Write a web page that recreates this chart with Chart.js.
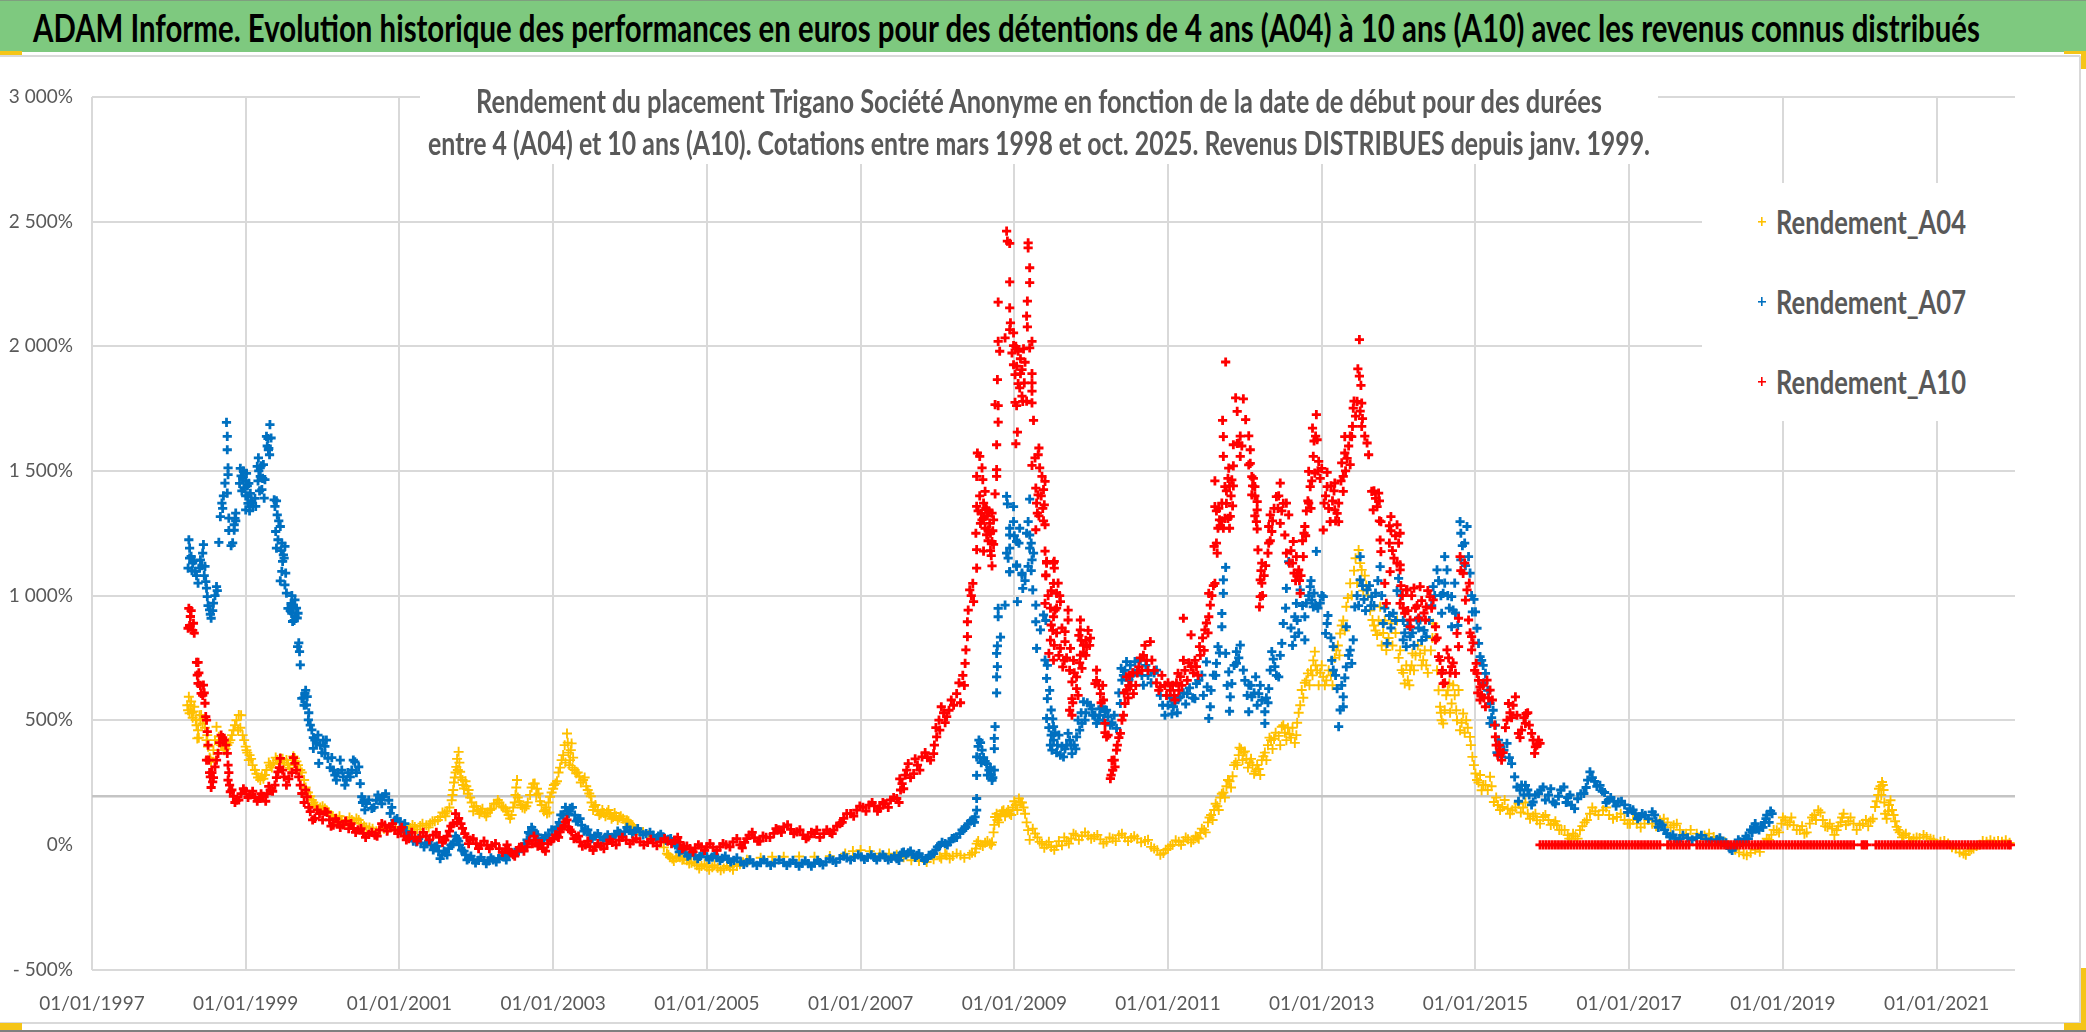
<!DOCTYPE html>
<html lang="fr"><head><meta charset="utf-8"><title>ADAM Informe</title>
<script src="https://cdn.jsdelivr.net/npm/chart.js@4"></script>
<style>
html,body{margin:0;padding:0;background:#fff;width:2086px;height:1032px;overflow:hidden}
#c{position:absolute;left:0;top:0}
.abs{position:absolute}
.fit{position:absolute;white-space:nowrap;transform-origin:0 50%;font-family:Lato,"Liberation Sans",sans-serif;line-height:1}
</style></head><body>
<canvas id="c" width="2086" height="1032"></canvas>
<div class="abs" style="left:0;top:0;width:2086px;height:52px;background:#7ec97f;border-top:1px solid #7f9f7f;box-sizing:border-box"></div>
<div class="abs" style="left:0;top:55px;width:2080px;height:2px;background:#d9d9d9"></div>
<div class="abs" style="left:2079px;top:56px;width:2px;height:967px;background:#d9d9d9"></div>
<div class="abs" style="left:0;top:1022px;width:2080px;height:2px;background:#d9d9d9"></div>
<div class="abs" style="left:0;top:1030px;width:2086px;height:2px;background:#7f7f7f"></div>
<div class="abs" style="left:0;top:51px;width:22px;height:4px;background:#f5c518"></div>
<div class="abs" style="left:0;top:1023px;width:22px;height:7px;background:#f5c518"></div>
<div class="abs" style="left:2064px;top:51px;width:22px;height:3px;background:#f5c518"></div>
<div class="abs" style="left:2081px;top:51px;width:5px;height:18px;background:#f5c518"></div>
<div class="abs" style="left:2081px;top:968px;width:5px;height:62px;background:#f5c518"></div>
<div class="abs" style="left:2064px;top:1023px;width:22px;height:7px;background:#f5c518"></div>
<div class="fit" data-x="33" data-w="1947" data-y="27" style="font-size:38px;font-weight:bold;color:#000">ADAM Informe. Evolution historique des performances en euros pour des détentions de 4 ans (A04) à 10 ans (A10) avec les revenus connus distribués</div>
<div class="abs" style="left:420px;top:86px;width:1238px;height:78px;background:#fff"></div>
<div class="fit" data-x="476" data-w="1126" data-y="100" style="font-size:33px;font-weight:bold;color:#595959">Rendement du placement Trigano Société Anonyme en fonction de la date de début pour des durées</div>
<div class="fit" data-x="428" data-w="1222" data-y="142" style="font-size:33px;font-weight:bold;color:#595959">entre 4 (A04) et 10 ans (A10). Cotations entre mars 1998 et oct. 2025. Revenus DISTRIBUES depuis janv. 1999.</div>
<div class="abs" style="left:1702px;top:183px;width:313px;height:238px;background:#fff"></div>
<div id="lg"></div>
<script>
const labelA04="Rendement_A04", labelA07="Rendement_A07", labelA10="Rendement_A10";
const yearTicks=[1997,1999,2001,2003,2005,2007,2009,2011,2013,2015,2017,2019,2021];
const pointsA04=[[1998.24,560],[1998.26,594],[1998.27,528],[1998.28,561],[1998.30,530],[1998.31,510],[1998.33,554],[1998.35,501],[1998.37,427],[1998.38,460],[1998.40,520],[1998.42,521],[1998.44,487],[1998.47,470],[1998.49,420],[1998.51,394],[1998.53,350],[1998.55,333],[1998.58,380],[1998.62,474],[1998.65,434],[1998.68,400],[1998.72,380],[1998.76,400],[1998.80,420],[1998.84,460],[1998.88,500],[1998.91,521],[1998.93,470],[1998.96,440],[1999.0,394],[1999.02,370],[1999.04,340],[1999.07,345],[1999.12,300],[1999.16,270],[1999.19,260],[1999.23,265],[1999.27,300],[1999.32,320],[1999.36,330],[1999.41,340],[1999.45,347],[1999.50,330],[1999.55,320],[1999.60,340],[1999.64,347],[1999.68,320],[1999.73,290],[1999.78,230],[1999.84,195],[1999.88,170],[1999.92,153],[1999.97,150],[2000.03,146],[2000.08,130],[2000.13,115],[2000.18,106],[2000.25,100],[2000.32,95],[2000.38,100],[2000.44,106],[2000.50,85],[2000.57,70],[2000.65,65],[2000.75,60],[2000.85,62],[2000.95,64],[2001.01,72],[2001.05,68],[2001.09,66],[2001.14,68],[2001.20,72],[2001.27,76],[2001.35,79],[2001.40,86],[2001.46,95],[2001.53,112],[2001.59,126],[2001.62,135],[2001.68,179],[2001.70,220],[2001.72,270],[2001.74,313],[2001.77,373],[2001.78,330],[2001.79,293],[2001.82,260],[2001.84,226],[2001.87,235],[2001.90,220],[2001.94,170],[2001.97,153],[2002.02,140],[2002.06,133],[2002.11,126],[2002.15,130],[2002.20,145],[2002.26,166],[2002.30,170],[2002.35,150],[2002.40,135],[2002.44,106],[2002.46,120],[2002.50,170],[2002.52,230],[2002.54,190],[2002.58,160],[2002.63,146],[2002.67,170],[2002.72,230],[2002.76,246],[2002.79,225],[2002.81,206],[2002.85,160],[2002.90,140],[2002.92,126],[2002.94,170],[2002.96,193],[2003.0,225],[2003.03,246],[2003.07,290],[2003.11,340],[2003.15,400],[2003.18,447],[2003.20,370],[2003.22,340],[2003.24,407],[2003.26,350],[2003.30,287],[2003.34,275],[2003.39,260],[2003.43,235],[2003.47,206],[2003.50,170],[2003.53,153],[2003.58,135],[2003.62,126],[2003.66,128],[2003.70,130],[2003.74,122],[2003.78,112],[2003.82,115],[2003.86,110],[2003.91,105],[2003.96,99],[2004.0,85],[2004.04,72],[2004.1,60],[2004.17,52],[2004.24,40],[2004.3,32],[2004.35,20],[2004.4,10],[2004.44,-10],[2004.48,-35],[2004.52,-50],[2004.55,-55],[2004.6,-52],[2004.65,-50],[2004.70,-58],[2004.74,-62],[2004.80,-72],[2004.87,-82],[2004.93,-85],[2005.0,-88],[2005.07,-90],[2005.14,-92],[2005.22,-95],[2005.30,-90],[2005.39,-85],[2005.47,-70],[2005.55,-62],[2005.7,-52],[2005.85,-48],[2006.0,-48],[2006.2,-47],[2006.4,-48],[2006.6,-45],[2006.8,-35],[2006.9,-25],[2007.0,-21],[2007.12,-25],[2007.25,-35],[2007.37,-35],[2007.47,-40],[2007.56,-50],[2007.66,-62],[2007.76,-65],[2007.86,-69],[2007.95,-58],[2008.03,-48],[2008.12,-42],[2008.2,-45],[2008.3,-42],[2008.42,-40],[2008.49,-30],[2008.51,5],[2008.56,0],[2008.62,8],[2008.68,5],[2008.71,10],[2008.73,50],[2008.75,112],[2008.78,100],[2008.82,120],[2008.86,139],[2008.9,130],[2008.94,125],[2008.98,150],[2009.02,160],[2009.06,186],[2009.1,170],[2009.14,125],[2009.18,59],[2009.24,65],[2009.3,30],[2009.36,5],[2009.42,0],[2009.48,-9],[2009.55,-5],[2009.62,-2],[2009.68,15],[2009.74,25],[2009.8,39],[2009.88,35],[2009.96,38],[2010.04,32],[2010.12,22],[2010.2,12],[2010.28,25],[2010.36,39],[2010.44,30],[2010.52,28],[2010.6,25],[2010.7,15],[2010.78,-8],[2010.86,-22],[2010.94,-33],[2011.0,-15],[2011.06,0],[2011.14,12],[2011.2,15],[2011.26,22],[2011.33,20],[2011.38,30],[2011.42,48],[2011.47,60],[2011.52,90],[2011.56,120],[2011.6,140],[2011.64,155],[2011.68,190],[2011.72,210],[2011.76,235],[2011.8,255],[2011.84,275],[2011.88,330],[2011.92,360],[2011.95,384],[2011.98,370],[2012.02,345],[2012.06,330],[2012.1,320],[2012.14,295],[2012.18,304],[2012.22,340],[2012.26,370],[2012.3,400],[2012.34,420],[2012.38,425],[2012.44,437],[2012.48,474],[2012.52,450],[2012.56,470],[2012.6,430],[2012.65,409],[2012.68,490],[2012.72,560],[2012.74,621],[2012.78,650],[2012.82,688],[2012.86,700],[2012.89,740],[2012.91,775],[2012.94,700],[2012.98,690],[2013.02,674],[2013.06,660],[2013.12,680],[2013.17,750],[2013.21,800],[2013.24,848],[2013.28,900],[2013.32,955],[2013.37,1049],[2013.42,1100],[2013.48,1183],[2013.52,1103],[2013.56,1080],[2013.6,1000],[2013.66,902],[2013.7,860],[2013.72,842],[2013.76,955],[2013.8,850],[2013.84,781],[2013.9,888],[2013.96,850],[2014.0,750],[2014.04,701],[2014.08,647],[2014.12,660],[2014.15,701],[2014.18,768],[2014.22,760],[2014.28,768],[2014.32,741],[2014.36,720],[2014.42,780],[2014.45,888],[2014.48,830],[2014.54,554],[2014.56,500],[2014.58,487],[2014.62,600],[2014.66,647],[2014.69,567],[2014.73,600],[2014.78,621],[2014.8,460],[2014.84,527],[2014.88,500],[2014.93,433],[2014.96,353],[2015.0,286],[2015.04,250],[2015.08,219],[2015.13,240],[2015.19,273],[2015.24,172],[2015.29,160],[2015.35,152],[2015.42,145],[2015.48,139],[2015.56,166],[2015.62,150],[2015.68,125],[2015.75,115],[2015.8,99],[2015.88,112],[2015.95,100],[2016.02,85],[2016.06,79],[2016.12,60],[2016.2,39],[2016.25,25],[2016.3,35],[2016.36,59],[2016.42,90],[2016.49,125],[2016.56,135],[2016.66,139],[2016.74,120],[2016.84,112],[2016.94,100],[2017.01,85],[2017.1,85],[2017.2,85],[2017.3,85],[2017.4,99],[2017.5,90],[2017.58,79],[2017.66,60],[2017.74,45],[2017.88,45],[2017.98,38],[2018.1,32],[2018.2,15],[2018.29,-2],[2018.38,-20],[2018.49,-38],[2018.58,-32],[2018.7,-28],[2018.79,25],[2018.85,40],[2018.92,59],[2018.98,85],[2019.03,99],[2019.09,90],[2019.14,79],[2019.22,60],[2019.28,45],[2019.35,85],[2019.41,120],[2019.46,139],[2019.52,100],[2019.58,72],[2019.64,65],[2019.7,59],[2019.75,90],[2019.79,125],[2019.85,95],[2019.92,85],[2020.0,79],[2020.08,100],[2020.14,95],[2020.2,152],[2020.24,200],[2020.27,235],[2020.29,252],[2020.31,220],[2020.33,125],[2020.37,135],[2020.4,179],[2020.44,120],[2020.48,72],[2020.52,50],[2020.57,39],[2020.64,30],[2020.7,25],[2020.78,28],[2020.87,32],[2020.96,20],[2021.05,12],[2021.15,5],[2021.25,-15],[2021.35,-35],[2021.42,-25],[2021.48,-15],[2021.56,0],[2021.65,12],[2021.75,12],[2021.85,12],[2021.95,8]];
const moreA04=[[1998.25,540],[1998.29,575],[1998.32,535],[1998.36,480],[1998.39,430],[1998.41,500],[1998.45,505],[1998.5,440],[1998.54,345],[1998.6,420],[1998.66,420],[1998.7,395],[1998.74,385],[1998.78,410],[1998.82,440],[1998.86,480],[1998.9,460],[1998.94,520],[1998.98,420],[1999.01,380],[1999.05,360],[1999.09,320],[1999.14,285],[1999.21,275],[1999.25,280],[1999.3,330],[1999.34,310],[1999.39,350],[1999.43,325],[1999.48,345],[1999.53,340],[1999.57,310],[1999.62,355],[1999.66,335],[1999.71,300],[1999.76,260],[1999.81,210],[1999.86,180],[1999.9,160],[1999.95,140],[2000.0,155],[2000.06,135],[2000.1,120],[2000.16,105],[2000.22,115],[2000.29,90],[2000.35,110],[2000.41,90],[2000.47,100],[2000.54,75],[2000.61,70],[2000.7,55],[2000.8,65],[2000.9,72],[2001.03,60],[2001.07,80],[2001.12,58],[2001.17,80],[2001.23,62],[2001.3,85],[2001.38,70],[2001.43,95],[2001.5,100],[2001.56,130],[2001.6,115],[2001.65,150],[2001.69,200],[2001.71,250],[2001.73,290],[2001.75,345],[2001.76,300],[2001.8,270],[2001.83,240],[2001.86,255],[2001.89,205],[2001.92,190],[2001.96,135],[2002.0,155],[2002.04,125],[2002.08,145],[2002.13,115],[2002.18,140],[2002.23,165],[2002.28,180],[2002.33,155],[2002.38,145],[2002.42,120],[2002.48,150],[2002.51,200],[2002.53,260],[2002.56,175],[2002.6,150],[2002.65,155],[2002.7,200],[2002.74,245],[2002.78,200],[2002.83,175],[2002.88,135],[2002.91,150],[2002.95,130],[2002.98,210],[2003.01,240],[2003.05,255],[2003.09,310],[2003.13,360],[2003.16,330],[2003.19,410],[2003.21,320],[2003.23,380],[2003.25,310],[2003.28,300],[2003.32,290],[2003.36,250],[2003.41,270],[2003.45,220],[2003.49,195],[2003.52,140],[2003.55,160],[2003.6,120],[2003.64,140],[2003.68,115],[2003.72,140],[2003.76,105],[2003.8,128],[2003.84,100],[2003.88,115],[2003.94,90],[2003.98,95],[2004.02,80],[2004.07,62],[2004.13,50],[2004.5,-40],[2004.57,-65],[2004.63,-45],[2004.68,-60],[2004.77,-75],[2004.84,-70],[2004.9,-95],[2004.97,-78],[2005.03,-100],[2005.1,-82],[2005.18,-102],[2005.26,-85],[2005.34,-100],[2005.43,-78],[2005.52,-60],[2008.05,-55],[2008.1,-35],[2008.16,-55],[2008.25,-35],[2008.35,-52],[2008.45,-32],[2008.5,-15],[2008.53,15],[2008.59,-5],[2008.65,15],[2008.7,0],[2008.74,80],[2008.77,125],[2008.8,90],[2008.84,135],[2008.88,115],[2008.92,140],[2008.96,120],[2009.0,175],[2009.04,140],[2009.08,170],[2009.12,150],[2009.16,90],[2009.2,20],[2009.27,45],[2009.33,12],[2009.39,-12],[2009.45,12],[2009.52,-20],[2009.58,15],[2009.65,30],[2009.71,5],[2009.77,45],[2009.84,20],[2009.92,50],[2010.0,25],[2010.08,40],[2010.16,5],[2010.24,30],[2010.32,15],[2010.4,45],[2010.48,15],[2010.56,35],[2010.65,10],[2010.74,20],[2010.82,-15],[2010.9,-40],[2010.97,-20],[2011.03,-5],[2011.1,18],[2011.17,0],[2011.23,30],[2011.3,10],[2011.36,35],[2011.4,25],[2011.44,65],[2011.49,50],[2011.54,110],[2011.58,100],[2011.62,165],[2011.66,140],[2011.7,205],[2011.74,190],[2011.78,260],[2011.82,230],[2011.86,320],[2011.9,320],[2011.93,390],[2011.97,340],[2012.0,375],[2012.04,310],[2012.08,345],[2012.12,285],[2012.16,320],[2012.2,280],[2012.24,355],[2012.28,340],[2012.32,430],[2012.36,385],[2012.4,450],[2012.46,400],[2012.5,480],[2012.54,420],[2012.58,445],[2012.62,470],[2012.67,440],[2012.7,530],[2012.76,590],[2012.8,660],[2012.84,640],[2012.88,680],[2012.92,720],[2012.96,640],[2013.0,720],[2013.04,640],[2013.09,700],[2013.14,640],[2013.19,780],[2013.23,760],[2013.26,880],[2013.3,860],[2013.34,990],[2013.39,1000],[2013.44,1150],[2013.46,1050],[2013.5,1130],[2013.54,1020],[2013.58,1040],[2013.63,940],[2013.68,880],[2013.74,900],[2013.78,800],[2013.82,900],[2013.87,830],[2013.92,800],[2013.98,900],[2014.02,780],[2014.06,690],[2014.1,720],[2014.14,640],[2014.17,720],[2014.2,700],[2014.25,800],[2014.3,720],[2014.34,780],[2014.38,690],[2014.44,830],[2014.5,700],[2014.52,620],[2014.55,530],[2014.6,540],[2014.64,620],[2014.67,530],[2014.71,640],[2014.75,540],[2014.76,500],[2014.82,490],[2014.86,450],[2014.9,470],[2014.94,400],[2014.98,320],[2015.02,260],[2015.06,280],[2015.1,240],[2015.16,220],[2015.21,235],[2015.27,190],[2015.32,140],[2015.38,180],[2015.45,125],[2015.52,150],[2015.59,130],[2015.65,170],[2015.71,105],[2015.78,125],[2015.84,85],[2015.91,120],[2015.98,80],[2016.04,95],[2016.09,60],[2016.16,60],[2016.22,25],[2016.27,45],[2016.33,25],[2016.39,75],[2016.45,100],[2016.52,150],[2016.6,120],[2016.7,150],[2016.79,105],[2016.89,125],[2016.98,85],[2017.05,100],[2017.15,70],[2017.25,100],[2017.35,75],[2017.45,105],[2017.54,70],[2017.62,85],[2017.7,40],[2017.8,60],[2017.93,30],[2018.04,45],[2018.15,20],[2018.25,10],[2018.33,-15],[2018.43,-30],[2018.53,-42],[2018.64,-20],[2018.75,5],[2018.82,20],[2018.88,60],[2018.95,50],[2019.0,110],[2019.06,80],[2019.11,110],[2019.18,60],[2019.25,75],[2019.31,50],[2019.38,110],[2019.43,100],[2019.49,130],[2019.55,75],[2019.61,85],[2019.67,40],[2019.72,75],[2019.77,110],[2019.82,80],[2019.88,110],[2019.96,60],[2020.04,85],[2020.11,75],[2020.17,105],[2020.22,175],[2020.25,225],[2020.28,200],[2020.3,240],[2020.32,170],[2020.35,105],[2020.38,160],[2020.42,140],[2020.46,95],[2020.5,60],[2020.55,30],[2020.6,45],[2020.67,15],[2020.74,30],[2020.83,40],[2020.92,25],[2021.0,5],[2021.1,15],[2021.2,-10],[2021.3,-30],[2021.38,-40],[2021.45,-18],[2021.52,-5],[2021.6,15],[2021.7,18],[2021.8,15],[2021.9,18]];
const pointsA07=[[1998.26,1224],[1998.27,1190],[1998.25,1110],[1998.29,1157],[1998.31,1130],[1998.34,1097],[1998.38,1050],[1998.41,1143],[1998.45,1204],[1998.44,1170],[1998.47,1117],[1998.48,1056],[1998.50,996],[1998.53,943],[1998.55,909],[1998.58,970],[1998.62,1036],[1998.63,1020],[1998.65,1213],[1998.67,1317],[1998.69,1371],[1998.73,1451],[1998.75,1695],[1998.76,1639],[1998.76,1585],[1998.77,1512],[1998.77,1485],[1998.76,1411],[1998.78,1311],[1998.78,1261],[1998.81,1200],[1998.83,1211],[1998.85,1284],[1998.87,1300],[1998.87,1331],[1998.93,1510],[1998.92,1450],[1998.96,1470],[1998.98,1430],[1999.0,1460],[1999.03,1400],[1999.0,1344],[1999.03,1370],[1999.07,1380],[1999.09,1358],[1999.13,1358],[1999.15,1518],[1999.165,1552],[1999.19,1478],[1999.23,1525],[1999.25,1465],[1999.21,1425],[1999.24,1391],[1999.27,1639],[1999.29,1630],[1999.315,1686],[1999.33,1632],[1999.295,1585],[1999.31,1565],[1999.37,1384],[1999.38,1358],[1999.41,1324],[1999.45,1277],[1999.39,1257],[1999.42,1224],[1999.40,1190],[1999.47,1210],[1999.51,1197],[1999.49,1163],[1999.48,1137],[1999.47,1097],[1999.45,1059],[1999.51,1043],[1999.53,1010],[1999.64,983],[1999.55,949],[1999.6,929],[1999.64,916],[1999.68,929],[1999.61,896],[1999.59,969],[1999.675,795],[1999.70,775],[1999.71,722],[1999.77,608],[1999.73,588],[1999.8,595],[1999.79,561],[1999.815,501],[1999.86,461],[1999.9,420],[2000.05,420],[1999.88,387],[1999.97,400],[1999.95,327],[2000.03,367],[2000.07,347],[2000.14,300],[2000.23,340],[2000.16,280],[2000.27,273],[2000.31,260],[2000.36,273],[2000.42,333],[2000.47,313],[2000.49,246],[2000.51,193],[2000.54,180],[2000.57,166],[2000.64,146],[2000.70,179],[2000.75,185],[2000.79,193],[2000.86,179],[2000.88,126],[2000.94,99],[2001.01,92],[2001.05,70],[2001.09,52],[2001.15,30],[2001.22,12],[2001.28,8],[2001.35,5],[2001.41,0],[2001.46,-8],[2001.51,-25],[2001.55,-41],[2001.60,-30],[2001.64,-15],[2001.7,5],[2001.75,25],[2001.78,0],[2001.81,-21],[2001.86,-40],[2001.9,-55],[2001.96,-60],[2002.03,-62],[2002.1,-63],[2002.16,-64],[2002.22,-60],[2002.29,-55],[2002.36,-48],[2002.42,-41],[2002.5,-30],[2002.59,-15],[2002.66,20],[2002.7,45],[2002.74,59],[2002.8,40],[2002.87,25],[2002.94,40],[2003.02,59],[2003.08,90],[2003.13,119],[2003.18,135],[2003.22,146],[2003.28,119],[2003.32,100],[2003.37,79],[2003.42,60],[2003.48,39],[2003.54,35],[2003.61,32],[2003.68,30],[2003.74,29],[2003.8,38],[2003.87,46],[2003.93,52],[2004.0,59],[2004.06,55],[2004.13,52],[2004.21,45],[2004.3,39],[2004.37,35],[2004.43,32],[2004.5,22],[2004.56,12],[2004.62,-5],[2004.67,-21],[2004.72,-32],[2004.78,-41],[2004.84,-44],[2004.91,-46],[2005.0,-48],[2005.07,-49],[2005.13,-51],[2005.2,-54],[2005.28,-58],[2005.35,-62],[2005.44,-68],[2005.52,-71],[2005.6,-72],[2005.7,-71],[2005.78,-71],[2005.88,-72],[2006.0,-71],[2006.08,-72],[2006.16,-74],[2006.24,-74],[2006.32,-75],[2006.4,-73],[2006.47,-71],[2006.55,-68],[2006.64,-62],[2006.73,-55],[2006.82,-52],[2006.92,-50],[2007.01,-48],[2007.09,-50],[2007.18,-50],[2007.25,-49],[2007.32,-50],[2007.4,-54],[2007.47,-55],[2007.52,-42],[2007.56,-29],[2007.62,-32],[2007.68,-38],[2007.73,-42],[2007.8,-50],[2007.86,-55],[2007.92,-40],[2007.98,-20],[2008.03,-2],[2008.1,5],[2008.16,12],[2008.22,28],[2008.29,45],[2008.35,65],[2008.40,85],[2008.46,100],[2008.49,112],[2008.51,139],[2008.51,186],[2008.51,279],[2008.51,353],[2008.54,420],[2008.56,410],[2008.58,380],[2008.6,350],[2008.64,326],[2008.67,300],[2008.7,280],[2008.71,259],[2008.74,300],[2008.74,386],[2008.74,427],[2008.75,474],[2008.77,610],[2008.77,674],[2008.78,715],[2008.77,768],[2008.78,798],[2008.82,833],[2008.79,915],[2008.79,949],[2008.88,962],[2009.04,976],[2008.94,1096],[2009.03,1123],[2009.1,1090],[2009.11,1029],[2009.24,1023],[2009.28,962],[2008.90,1398],[2008.91,1368],[2008.99,1357],[2009.2,1387],[2009.18,1297],[2008.99,1297],[2008.94,1270],[2009.07,1270],[2008.94,1243],[2009.03,1217],[2009.2,1243],[2008.94,1190],[2008.9,1170],[2009.2,1190],[2008.92,1150],[2009.23,1143],[2009.03,1117],[2008.94,1095],[2009.18,1117],[2009.1,1083],[2009.14,1060],[2009.22,1100],[2009.38,922],[2009.28,895],[2009.34,862],[2009.29,788],[2009.4,741],[2009.42,668],[2009.43,587],[2009.48,541],[2009.42,507],[2009.45,470],[2009.51,474],[2009.48,440],[2009.51,420],[2009.47,400],[2009.49,380],[2009.55,370],[2009.6,360],[2009.64,353],[2009.68,400],[2009.7,447],[2009.75,366],[2009.78,400],[2009.81,433],[2009.85,460],[2009.88,487],[2009.93,530],[2009.99,560],[2009.9,574],[2010.02,520],[2010.07,487],[2010.11,520],[2010.14,554],[2010.18,535],[2010.22,514],[2010.27,490],[2010.33,467],[2010.38,567],[2010.40,661],[2010.39,708],[2010.44,700],[2010.51,721],[2010.49,660],[2010.55,690],[2010.64,741],[2010.68,641],[2010.74,680],[2010.85,701],[2010.96,520],[2011.0,560],[2011.07,554],[2011.12,530],[2011.16,594],[2011.25,607],[2011.35,587],[2011.37,647],[2011.44,681],[2011.5,734],[2011.51,634],[2011.59,681],[2011.55,554],[2011.53,507],[2011.65,795],[2011.63,728],[2011.7,875],[2011.7,928],[2011.72,1009],[2011.72,1063],[2011.75,1113],[2011.75,768],[2011.79,694],[2011.83,647],[2011.81,594],[2011.8,536],[2011.89,775],[2011.89,728],[2011.94,801],[2011.98,701],[2012.05,641],[2012.14,674],[2012.09,594],[2012.18,607],[2012.05,534],[2012.31,627],[2012.26,534],[2012.26,487],[2012.35,775],[2012.39,715],[2012.33,701],[2012.44,674],[2012.48,808],[2012.5,888],[2012.54,1029],[2012.57,1136],[2012.65,835],[2012.65,915],[2012.67,969],[2012.72,1023],[2012.78,822],[2012.78,915],[2012.85,1036],[2012.87,982],[2012.89,955],[2012.95,950],[2013.02,996],[2012.93,1177],[2013.07,888],[2013.05,848],[2013.15,795],[2013.15,701],[2013.13,740],[2013.2,627],[2013.28,594],[2013.28,554],[2013.24,541],[2013.22,474],[2013.32,714],[2013.37,781],[2013.41,822],[2013.39,728],[2013.32,875],[2013.43,955],[2013.5,1156],[2013.5,1063],[2013.59,1023],[2013.65,996],[2013.68,960],[2013.76,1116],[2013.93,929],[2013.8,888],[2013.85,808],[2014.0,1069],[2014.1,795],[2014.15,835],[2014.28,902],[2014.36,835],[2014.5,1103],[2014.45,1036],[2014.06,822],[2014.24,902],[2014.55,1000],[2014.56,929],[2014.58,1009],[2014.6,1156],[2014.63,1103],[2014.6,1050],[2014.69,875],[2014.69,996],[2014.73,1050],[2014.71,942],[2014.8,1297],[2014.81,1250],[2014.89,1277],[2014.86,1210],[2014.81,1143],[2014.91,1156],[2014.95,1000],[2015.0,935],[2014.96,935],[2015.02,869],[2015.04,808],[2015.06,755],[2015.1,720],[2015.13,688],[2015.19,567],[2015.19,487],[2015.23,540],[2015.3,420],[2015.34,353],[2015.41,407],[2015.47,326],[2015.51,273],[2015.54,232],[2015.58,220],[2015.65,239],[2015.7,200],[2015.75,172],[2015.82,205],[2015.88,232],[2015.95,200],[2016.01,172],[2016.08,195],[2016.15,232],[2016.2,190],[2016.25,159],[2016.33,185],[2016.41,206],[2016.46,260],[2016.49,293],[2016.55,255],[2016.62,239],[2016.68,210],[2016.73,179],[2016.8,175],[2016.86,172],[2016.94,160],[2017.01,145],[2017.08,125],[2017.14,112],[2017.21,118],[2017.30,132],[2017.35,95],[2017.40,85],[2017.46,60],[2017.53,32],[2017.6,26],[2017.66,25],[2017.76,28],[2017.88,29],[2018.0,24],[2018.14,21],[2018.22,10],[2018.29,-2],[2018.34,-22],[2018.39,0],[2018.44,12],[2018.5,20],[2018.55,25],[2018.58,60],[2018.62,72],[2018.66,65],[2018.72,72],[2018.76,90],[2018.79,119],[2018.86,125]];
const moreA07=[[1998.27,1150],[1998.3,1100],[1998.33,1140],[1998.36,1080],[1998.4,1110],[1998.43,1120],[1998.46,1080],[1998.49,1030],[1998.51,960],[1998.54,925],[1998.57,940],[1998.6,1000],[1998.7,1350],[1998.71,1400],[1998.85,1262],[1998.86,1310],[1998.94,1480],[1998.95,1420],[1998.97,1500],[1999.0,1400],[1999.01,1490],[1999.02,1440],[1999.04,1450],[1999.05,1340],[1999.06,1410],[1999.08,1370],[1999.12,1390],[1999.16,1460],[1999.17,1500],[1999.18,1420],[1999.2,1520],[1999.22,1470],[1999.28,1600],[1999.3,1590],[1999.4,1380],[1999.43,1300],[1999.46,1180],[1999.5,1150],[1999.52,1090],[1999.58,940],[1999.6,1000],[1999.62,960],[1999.63,900],[1999.66,950],[1999.67,910],[1999.69,810],[1999.75,590],[1999.76,560],[1999.78,620],[1999.82,530],[1999.84,480],[1999.88,430],[1999.92,410],[1999.94,440],[1999.99,370],[2000.01,420],[2000.03,395],[2000.1,310],[2000.12,350],[2000.18,260],[2000.2,290],[2000.25,300],[2000.29,240],[2000.33,290],[2000.38,300],[2000.4,340],[2000.44,290],[2000.52,170],[2000.55,140],[2000.6,180],[2000.67,150],[2000.72,200],[2000.77,165],[2000.82,205],[2000.9,150],[2000.97,105],[2001.03,65],[2001.07,85],[2001.12,40],[2001.18,15],[2001.25,25],[2001.32,-8],[2001.38,15],[2001.44,-20],[2001.49,-5],[2001.53,-55],[2001.58,-25],[2001.62,-40],[2001.67,0],[2001.73,35],[2001.77,15],[2001.84,-25],[2001.88,-60],[2001.93,-45],[2001.99,-72],[2002.06,-50],[2002.13,-75],[2002.19,-52],[2002.26,-68],[2002.33,-45],[2002.39,-60],[2002.46,-32],[2002.55,-25],[2002.63,5],[2002.68,50],[2002.72,70],[2002.77,40],[2002.84,15],[2002.9,35],[2002.98,60],[2003.05,70],[2003.1,120],[2003.16,150],[2003.2,125],[2003.25,150],[2003.3,95],[2003.35,105],[2003.4,55],[2003.45,60],[2003.51,25],[2003.58,45],[2003.65,20],[2003.71,40],[2003.77,30],[2003.84,55],[2003.9,35],[2003.96,70],[2004.03,45],[2004.1,65],[2004.17,40],[2004.26,50],[2004.34,25],[2004.4,42],[2004.47,18],[2004.53,25],[2004.59,0],[2004.64,-28],[2004.7,-12],[2004.75,-45],[2004.81,-30],[2004.88,-55],[2004.95,-35],[2005.03,-58],[2005.1,-40],[2005.17,-62],[2005.24,-45],[2005.31,-68],[2005.39,-52],[2005.48,-78],[2005.56,-60],[2005.65,-82],[2005.74,-60],[2005.83,-82],[2005.94,-60],[2006.04,-82],[2006.12,-62],[2006.2,-85],[2006.28,-64],[2006.36,-85],[2006.44,-62],[2006.51,-80],[2006.6,-55],[2006.68,-70],[2006.78,-45],[2006.87,-60],[2006.97,-40],[2007.05,-58],[2007.14,-40],[2007.21,-60],[2007.29,-40],[2007.36,-60],[2007.44,-45],[2007.5,-62],[2007.54,-32],[2007.59,-40],[2007.65,-25],[2007.71,-50],[2007.76,-35],[2007.83,-62],[2007.89,-42],[2007.95,-35],[2008.0,-8],[2008.06,10],[2008.13,0],[2008.19,25],[2008.25,30],[2008.32,60],[2008.37,70],[2008.43,95],[2008.48,90],[2008.53,395],[2008.55,350],[2008.57,330],[2008.62,335],[2008.65,280],[2008.69,310],[2008.72,270],[2009.0,1240],[2009.06,1210],[2009.16,1250],[2009.22,1210],[2009.25,1170],[2009.41,900],[2009.43,720],[2009.46,620],[2009.5,505],[2009.53,450],[2009.56,400],[2009.58,440],[2009.62,395],[2009.66,385],[2009.72,420],[2009.74,400],[2009.8,385],[2009.83,500],[2009.87,530],[2009.92,500],[2009.95,570],[2010.01,545],[2010.05,520],[2010.09,500],[2010.12,545],[2010.16,500],[2010.2,540],[2010.25,480],[2010.3,520],[2010.36,610],[2010.42,680],[2010.46,735],[2010.53,680],[2010.57,735],[2010.6,700],[2010.66,680],[2010.71,720],[2010.78,650],[2010.82,690],[2010.9,600],[2010.93,560],[2011.03,590],[2011.05,525],[2011.09,570],[2011.14,590],[2011.2,610],[2011.23,565],[2011.28,630],[2011.32,590],[2011.4,660],[2011.46,600],[2011.56,620],[2011.62,680],[2011.67,770],[2011.77,640],[2011.86,720],[2011.92,750],[2012.0,660],[2012.03,600],[2012.08,640],[2012.12,610],[2012.16,560],[2012.2,640],[2012.22,580],[2012.28,590],[2012.3,570],[2012.37,745],[2012.41,680],[2012.46,760],[2012.53,950],[2012.6,870],[2012.62,800],[2012.68,900],[2012.7,850],[2012.75,960],[2012.8,970],[2012.83,1000],[2012.86,1060],[2012.9,1010],[2012.92,960],[2012.98,970],[2013.0,1000],[2013.08,920],[2013.12,830],[2013.18,680],[2013.26,640],[2013.3,670],[2013.35,760],[2013.46,1000],[2013.48,960],[2013.53,1040],[2013.55,985],[2013.57,940],[2013.62,1040],[2013.64,960],[2013.7,1010],[2013.73,1060],[2013.78,1000],[2013.82,950],[2013.88,920],[2013.9,870],[2013.96,900],[2013.98,1020],[2014.03,1000],[2014.06,900],[2014.08,850],[2014.12,880],[2014.18,850],[2014.2,800],[2014.26,870],[2014.3,820],[2014.33,860],[2014.4,900],[2014.43,960],[2014.47,1000],[2014.52,1060],[2014.64,1000],[2014.66,950],[2014.74,930],[2014.77,880],[2014.83,1200],[2014.87,1120],[2014.93,1090],[2014.98,985],[2015.08,740],[2015.11,650],[2015.16,620],[2015.21,510],[2015.26,480],[2015.28,370],[2015.32,395],[2015.37,380],[2015.44,350],[2015.56,175],[2015.6,240],[2015.63,200],[2015.68,220],[2015.73,160],[2015.78,200],[2015.85,220],[2015.91,180],[2015.98,225],[2016.04,165],[2016.11,220],[2016.18,170],[2016.23,200],[2016.29,145],[2016.37,205],[2016.44,230],[2016.52,270],[2016.58,235],[2016.65,215],[2016.7,170],[2016.76,190],[2016.83,155],[2016.9,175],[2016.98,130],[2017.05,140],[2017.11,105],[2017.17,125],[2017.25,105],[2017.33,120],[2017.38,70],[2017.43,80],[2017.49,45],[2017.57,40],[2017.63,15],[2017.7,38],[2017.82,20],[2017.94,38],[2018.07,15],[2018.18,28],[2018.26,8],[2018.31,-15],[2018.36,-8],[2018.42,20],[2018.47,10],[2018.52,35],[2018.6,50],[2018.64,85],[2018.69,60],[2018.74,70],[2018.78,105],[2018.82,90],[2018.84,135]];
const pointsA10=[[1998.26,949],[1998.28,916],[1998.25,869],[1998.32,889],[1998.33,849],[1998.36,732],[1998.38,732],[1998.37,681],[1998.38,648],[1998.42,608],[1998.45,641],[1998.47,568],[1998.48,514],[1998.5,454],[1998.49,340],[1998.53,290],[1998.54,273],[1998.57,253],[1998.6,313],[1998.64,367],[1998.68,440],[1998.72,420],[1998.76,367],[1998.77,320],[1998.77,260],[1998.8,213],[1998.84,195],[1998.88,179],[1998.94,205],[1999.0,215],[1999.06,200],[1999.12,190],[1999.18,186],[1999.23,195],[1999.28,205],[1999.32,220],[1999.38,240],[1999.42,293],[1999.45,347],[1999.5,273],[1999.56,265],[1999.64,327],[1999.69,273],[1999.73,206],[1999.8,193],[1999.84,133],[1999.9,106],[1999.96,125],[2000.03,133],[2000.09,100],[2000.14,79],[2000.2,92],[2000.27,80],[2000.4,66],[2000.46,60],[2000.53,46],[2000.6,42],[2000.68,39],[2000.74,60],[2000.81,79],[2000.88,70],[2000.94,59],[2001.01,59],[2001.06,35],[2001.12,25],[2001.2,30],[2001.27,32],[2001.35,36],[2001.44,39],[2001.52,30],[2001.59,19],[2001.65,55],[2001.7,85],[2001.77,106],[2001.82,66],[2001.88,30],[2001.92,19],[2002.0,5],[2002.06,-1],[2002.14,-1],[2002.2,-3],[2002.3,-15],[2002.38,-18],[2002.42,-21],[2002.48,-39],[2002.53,-25],[2002.59,-8],[2002.66,-8],[2002.73,5],[2002.77,19],[2002.82,5],[2002.87,-15],[2002.93,5],[2003.0,25],[2003.05,35],[2003.09,52],[2003.14,75],[2003.16,92],[2003.2,70],[2003.24,52],[2003.3,30],[2003.35,12],[2003.42,0],[2003.48,-8],[2003.55,-8],[2003.62,-5],[2003.7,5],[2003.77,10],[2003.86,19],[2003.95,19],[2004.04,16],[2004.13,12],[2004.23,10],[2004.3,8],[2004.4,12],[2004.49,15],[2004.58,19],[2004.65,10],[2004.7,-8],[2004.78,-15],[2004.85,-12],[2004.93,-8],[2005.0,-8],[2005.08,-10],[2005.17,-8],[2005.25,0],[2005.34,12],[2005.43,0],[2005.49,10],[2005.55,39],[2005.62,28],[2005.69,15],[2005.77,30],[2005.87,46],[2005.93,60],[2006.0,72],[2006.09,62],[2006.17,52],[2006.25,40],[2006.32,32],[2006.4,45],[2006.43,59],[2006.52,45],[2006.6,50],[2006.65,59],[2006.73,85],[2006.78,106],[2006.87,125],[2006.95,139],[2007.03,150],[2007.11,159],[2007.18,156],[2007.25,146],[2007.32,165],[2007.39,180],[2007.47,186],[2007.52,220],[2007.54,246],[2007.58,280],[2007.62,326],[2007.69,286],[2007.74,320],[2007.8,353],[2007.87,350],[2007.95,366],[2007.99,433],[2008.05,554],[2008.12,514],[2008.18,581],[2008.25,607],[2008.36,728],[2008.37,782],[2008.39,835],[2008.39,895],[2008.4,942],[2008.47,976],[2008.42,1023],[2008.46,1049],[2008.51,1110],[2008.71,1119],[2008.51,1184],[2008.6,1178],[2008.51,1358],[2008.6,1371],[2008.64,1344],[2008.71,1331],[2008.73,1304],[2008.58,1304],[2008.66,1264],[2008.71,1217],[2008.64,1244],[2008.62,1418],[2008.75,1408],[2008.59,1465],[2008.51,1478],[2008.58,1512],[2008.55,1558],[2008.52,1572],[2008.77,1505],[2008.77,1478],[2008.77,1605],[2008.79,1696],[2008.79,1762],[2008.78,1866],[2008.75,1766],[2008.81,1980],[2008.79,2020],[2008.88,2034],[2008.79,2177],[2008.94,2154],[2008.94,2258],[2008.90,2462],[2008.91,2422],[2008.94,2413],[2008.95,2094],[2008.94,2067],[2008.99,2054],[2008.99,2003],[2008.97,1973],[2008.99,1926],[2009.01,1886],[2009.1,1906],[2009.07,1833],[2009.13,1853],[2009.01,1775],[2009.03,1762],[2009.11,1779],[2009.23,1773],[2009.23,1820],[2009.23,1853],[2009.23,1890],[2009.14,1936],[2009.2,1994],[2009.23,2020],[2009.17,2078],[2009.16,2121],[2009.17,2181],[2009.2,2255],[2009.2,2315],[2009.18,2395],[2009.18,2415],[2009.04,1656],[2009.02,1609],[2009.25,1703],[2009.32,1592],[2009.31,1565],[2009.27,1552],[2009.23,1522],[2009.33,1512],[2009.36,1478],[2009.4,1458],[2009.28,1431],[2009.31,1404],[2009.29,1371],[2009.3,1331],[2009.39,1364],[2009.4,1284],[2009.28,1264],[2009.4,1178],[2009.42,1137],[2009.52,1137],[2009.52,1110],[2009.41,1079],[2009.42,1130],[2009.51,1130],[2009.41,1083],[2009.51,1049],[2009.55,1009],[2009.6,976],[2009.53,942],[2009.4,969],[2009.51,915],[2009.48,882],[2009.47,821],[2009.45,768],[2009.51,741],[2009.63,714],[2009.7,942],[2009.7,902],[2009.66,855],[2009.66,815],[2009.6,788],[2009.73,788],[2009.86,902],[2009.86,862],[2009.99,829],[2009.94,795],[2009.86,761],[2009.88,708],[2009.81,674],[2009.75,654],[2009.81,627],[2009.75,587],[2009.75,520],[2010.07,701],[2010.05,647],[2010.12,607],[2010.16,581],[2010.18,487],[2010.2,433],[2010.38,447],[2010.33,380],[2010.27,339],[2010.25,266],[2010.31,313],[2010.4,500],[2010.44,567],[2010.46,674],[2010.49,640],[2010.55,607],[2010.62,714],[2010.68,760],[2010.77,815],[2010.79,741],[2010.9,634],[2010.96,640],[2011.03,620],[2011.09,581],[2011.13,688],[2011.16,675],[2011.2,909],[2011.2,740],[2011.3,842],[2011.3,715],[2011.37,715],[2011.41,795],[2011.48,862],[2011.53,915],[2011.55,962],[2011.53,1009],[2011.61,1049],[2011.6,1197],[2011.63,1210],[2011.65,1270],[2011.67,1304],[2011.61,1357],[2011.7,1371],[2011.81,1318],[2011.8,1270],[2011.74,1437],[2011.83,1464],[2011.61,1460],[2011.79,1511],[2011.85,1520],[2011.72,1558],[2011.72,1638],[2011.71,1703],[2011.75,1937],[2011.85,1605],[2011.92,1612],[2011.94,1558],[2011.9,1739],[2011.88,1793],[2011.98,1789],[2012.01,1706],[2012.05,1641],[2012.07,1585],[2012.05,1524],[2012.09,1477],[2012.13,1437],[2012.09,1404],[2012.16,1377],[2012.16,1344],[2012.15,1297],[2012.16,1267],[2012.17,1183],[2012.22,1130],[2012.2,1063],[2012.2,996],[2012.19,955],[2012.31,1277],[2012.33,1324],[2012.31,1210],[2012.35,1257],[2012.46,1290],[2012.41,1397],[2012.46,1451],[2012.54,1371],[2012.57,1324],[2012.52,1243],[2012.54,1170],[2012.63,1217],[2012.67,1156],[2012.7,1103],[2012.76,1156],[2012.72,1009],[2012.78,1277],[2012.77,1250],[2012.83,1371],[2012.85,1437],[2012.83,1498],[2012.89,1558],[2012.88,1672],[2012.93,1726],[2012.94,1625],[2012.96,1538],[2012.91,1491],[2013.02,1263],[2013.03,1371],[2013.07,1437],[2013.07,1494],[2013.17,1451],[2013.28,1418],[2013.11,1297],[2013.22,1297],[2013.22,1371],[2013.17,1344],[2013.28,1478],[2013.37,1525],[2013.26,1532],[2013.3,1572],[2013.3,1638],[2013.39,1638],[2013.4,1679],[2013.41,1752],[2013.46,1779],[2013.52,1772],[2013.47,1909],[2013.49,1880],[2013.51,1843],[2013.49,2027],[2013.52,1679],[2013.59,1612],[2013.61,1565],[2013.65,1418],[2013.74,1411],[2013.72,1357],[2013.67,1344],[2013.77,1297],[2013.76,1223],[2013.77,1176],[2013.9,1317],[2013.88,1210],[2013.98,1284],[2014.0,1210],[2013.89,1096],[2014.02,1123],[2013.82,1049],[2013.84,969],[2014.1,1023],[2014.08,929],[2014.15,875],[2014.28,1036],[2014.36,955],[2014.45,983],[2014.02,1250],[2014.02,1103],[2014.02,969],[2014.11,1023],[2014.15,902],[2014.22,950],[2014.41,996],[2014.35,902],[2014.48,875],[2014.48,822],[2014.52,755],[2014.56,688],[2014.63,782],[2014.69,715],[2014.58,647],[2014.74,688],[2014.78,909],[2014.76,848],[2014.78,795],[2014.8,1156],[2014.84,1089],[2014.89,1023],[2014.87,982],[2014.91,902],[2014.95,835],[2014.95,782],[2015.01,728],[2015.02,688],[2015.06,634],[2015.15,661],[2015.19,621],[2015.06,581],[2015.22,581],[2015.13,554],[2015.25,480],[2015.26,433],[2015.32,380],[2015.34,340],[2015.41,500],[2015.43,567],[2015.52,594],[2015.47,510],[2015.56,447],[2015.66,527],[2015.65,487],[2015.73,447],[2015.78,393],[2015.77,367],[2015.84,407]];
const moreA10=[[1998.27,880],[1998.29,940],[1998.31,860],[1998.39,690],[1998.41,640],[1998.44,600],[1998.46,610],[1998.49,500],[1998.51,400],[1998.52,340],[1998.55,230],[1998.56,290],[1998.58,270],[1998.62,340],[1998.66,410],[1998.7,430],[1998.74,400],[1998.78,290],[1998.79,240],[1998.82,220],[1998.86,170],[1998.91,180],[1998.97,225],[1999.03,190],[1999.09,215],[1999.15,175],[1999.2,205],[1999.26,175],[1999.3,235],[1999.35,215],[1999.4,270],[1999.44,310],[1999.48,300],[1999.53,240],[1999.6,290],[1999.62,350],[1999.66,300],[1999.71,240],[1999.76,170],[1999.78,220],[1999.82,150],[1999.87,100],[1999.93,140],[2000.0,100],[2000.06,130],[2000.11,75],[2000.17,105],[2000.23,70],[2000.3,95],[2000.34,65],[2000.37,85],[2000.43,50],[2000.5,65],[2000.56,30],[2000.64,50],[2000.71,35],[2000.77,85],[2000.84,55],[2000.91,85],[2000.98,45],[2001.03,70],[2001.09,20],[2001.16,50],[2001.23,15],[2001.31,50],[2001.39,20],[2001.48,50],[2001.56,10],[2001.62,35],[2001.67,75],[2001.73,125],[2001.75,90],[2001.8,85],[2001.85,45],[2001.9,5],[2001.96,25],[2002.03,-15],[2002.1,15],[2002.17,-15],[2002.25,5],[2002.34,-30],[2002.4,0],[2002.45,-30],[2002.5,-45],[2002.56,-10],[2002.62,-25],[2002.69,15],[2002.75,35],[2002.8,-5],[2002.85,5],[2002.9,-25],[2002.97,15],[2003.03,40],[2003.07,30],[2003.11,65],[2003.18,100],[2003.22,60],[2003.27,25],[2003.33,35],[2003.38,-5],[2003.45,15],[2003.52,-22],[2003.58,5],[2003.66,-15],[2003.74,20],[2003.82,0],[2003.9,30],[2004.0,5],[2004.08,25],[2004.18,0],[2004.27,22],[2004.35,-3],[2004.45,25],[2004.54,5],[2004.62,30],[2004.68,-15],[2004.74,-5],[2004.82,-28],[2004.89,0],[2004.97,-22],[2005.04,5],[2005.13,-22],[2005.21,5],[2005.3,-8],[2005.39,25],[2005.46,-12],[2005.52,25],[2005.59,50],[2005.66,15],[2005.73,35],[2005.82,30],[2005.9,65],[2005.97,50],[2006.05,80],[2006.13,45],[2006.21,60],[2006.29,25],[2006.36,50],[2006.47,30],[2006.56,60],[2006.63,45],[2006.69,75],[2006.76,90],[2006.82,125],[2006.91,115],[2006.99,155],[2007.07,135],[2007.15,170],[2007.22,135],[2007.29,170],[2007.36,150],[2007.43,190],[2007.5,170],[2007.51,265],[2007.56,225],[2007.6,300],[2007.65,270],[2007.71,345],[2007.77,300],[2007.84,370],[2007.91,340],[2007.96,400],[2007.98,470],[2008.02,500],[2008.03,460],[2008.08,530],[2008.1,490],[2008.15,540],[2008.21,560],[2008.28,650],[2008.3,570],[2008.33,680],[2008.35,640],[2008.44,1000],[2008.5,1250],[2008.53,1340],[2008.55,1400],[2008.56,1290],[2008.57,1330],[2008.6,1310],[2008.62,1270],[2008.63,1350],[2008.65,1320],[2008.66,1220],[2008.67,1340],[2008.68,1290],[2008.69,1250],[2008.69,1180],[2008.72,1260],[2008.73,1205],[2008.7,1160],[2009.02,2000],[2009.05,1980],[2009.03,1920],[2009.08,1950],[2009.12,1990],[2009.08,1890],[2009.05,1850],[2009.1,1800],[2009.16,1780],[2009.38,1425],[2009.35,1400],[2009.37,1350],[2009.32,1320],[2009.38,1300],[2009.44,1000],[2009.48,1020],[2009.55,950],[2009.57,1050],[2009.59,1000],[2009.47,950],[2009.5,860],[2009.55,850],[2009.62,870],[2009.52,800],[2009.58,760],[2009.65,740],[2009.68,750],[2009.72,700],[2009.77,740],[2009.78,690],[2009.84,840],[2009.87,820],[2009.9,800],[2009.93,820],[2009.96,860],[2009.98,800],[2009.9,770],[2009.93,760],[2009.85,730],[2009.83,600],[2009.76,570],[2009.72,540],[2010.07,660],[2010.1,640],[2010.13,570],[2010.15,640],[2010.22,440],[2010.18,450],[2010.3,340],[2010.28,300],[2010.26,280],[2010.34,400],[2010.36,430],[2010.42,520],[2010.43,610],[2010.46,620],[2010.48,590],[2010.5,680],[2010.52,640],[2010.54,690],[2010.58,640],[2010.6,690],[2010.64,750],[2010.66,700],[2010.7,800],[2010.72,740],[2010.74,700],[2010.82,700],[2010.85,650],[2010.88,620],[2010.92,680],[2010.98,600],[2011.0,650],[2011.06,640],[2011.08,600],[2011.11,650],[2011.14,620],[2011.18,640],[2011.22,700],[2011.25,660],[2011.27,730],[2011.33,690],[2011.35,740],[2011.39,680],[2011.42,760],[2011.45,830],[2011.47,780],[2011.5,890],[2011.52,850],[2011.57,1000],[2011.59,1040],[2011.64,1170],[2011.63,1340],[2011.66,1350],[2011.68,1280],[2011.7,1300],[2011.72,1270],[2011.74,1310],[2011.76,1370],[2011.78,1310],[2011.76,1420],[2011.78,1470],[2011.8,1440],[2011.82,1400],[2011.85,1440],[2011.84,1360],[2011.9,1610],[2011.94,1640],[2011.96,1600],[2012.07,1530],[2012.1,1440],[2012.11,1470],[2012.13,1400],[2012.13,1320],[2012.25,1080],[2012.23,1000],[2012.22,1050],[2012.21,1100],[2012.27,1120],[2012.3,1170],[2012.33,1220],[2012.36,1300],[2012.38,1350],[2012.43,1350],[2012.44,1400],[2012.48,1340],[2012.5,1370],[2012.58,1130],[2012.6,1180],[2012.62,1130],[2012.64,1090],[2012.66,1060],[2012.68,1080],[2012.71,1060],[2012.73,1080],[2012.75,1220],[2012.79,1240],[2012.8,1340],[2012.82,1380],[2012.86,1350],[2012.87,1460],[2012.9,1620],[2012.92,1640],[2012.95,1500],[2012.98,1470],[2013.0,1510],[2013.05,1400],[2013.09,1350],[2013.12,1440],[2013.14,1380],[2013.16,1420],[2013.18,1300],[2013.2,1330],[2013.25,1460],[2013.31,1500],[2013.33,1550],[2013.35,1600],[2013.37,1640],[2013.42,1780],[2013.44,1720],[2013.5,1740],[2013.53,1710],[2013.56,1640],[2013.68,1420],[2013.7,1390],[2013.75,1380],[2013.75,1300],[2013.88,1280],[2013.9,1260],[2013.92,1180],[2013.94,1150],[2013.96,1240],[2013.98,1130],[2014.03,1040],[2014.05,1000],[2014.06,950],[2014.12,940],[2014.17,1000],[2014.2,1030],[2014.24,960],[2014.26,910],[2014.3,980],[2014.33,930],[2014.38,1020],[2014.43,950],[2014.5,830],[2014.54,740],[2014.57,700],[2014.6,650],[2014.65,750],[2014.67,690],[2014.71,730],[2014.81,1100],[2014.86,1130],[2014.92,1050],[2014.93,850],[2014.97,810],[2014.99,700],[2015.03,610],[2015.08,600],[2015.1,640],[2015.11,590],[2015.17,590],[2015.04,660],[2015.27,400],[2015.29,360],[2015.31,400],[2015.36,370],[2015.39,470],[2015.45,530],[2015.49,560],[2015.54,520],[2015.58,430],[2015.6,460],[2015.63,510],[2015.68,530],[2015.7,480],[2015.75,420],[2015.8,400],[2015.82,420]];
const flatA10=[[2015.84,0],[2015.88,0],[2015.92,0],[2015.96,0],[2016.0,0],[2016.04,0],[2016.08,0],[2016.12,0],[2016.16,0],[2016.2,0],[2016.24,0],[2016.28,0],[2016.32,0],[2016.36,0],[2016.4,0],[2016.44,0],[2016.48,0],[2016.52,0],[2016.56,0],[2016.6,0],[2016.64,0],[2016.68,0],[2016.72,0],[2016.76,0],[2016.8,0],[2016.84,0],[2016.88,0],[2016.92,0],[2016.96,0],[2017.0,0],[2017.04,0],[2017.08,0],[2017.12,0],[2017.16,0],[2017.2,0],[2017.24,0],[2017.28,0],[2017.32,0],[2017.36,0],[2017.4,0],[2017.5,0],[2017.54,0],[2017.58,0],[2017.62,0],[2017.66,0],[2017.7,0],[2017.74,0],[2017.78,0],[2017.88,0],[2017.92,0],[2017.96,0],[2018.0,0],[2018.04,0],[2018.08,0],[2018.12,0],[2018.16,0],[2018.2,0],[2018.24,0],[2018.28,0],[2018.32,0],[2018.36,0],[2018.4,0],[2018.44,0],[2018.48,0],[2018.52,0],[2018.56,0],[2018.6,0],[2018.64,0],[2018.68,0],[2018.72,0],[2018.76,0],[2018.8,0],[2018.84,0],[2018.88,0],[2018.92,0],[2018.96,0],[2019.0,0],[2019.04,0],[2019.08,0],[2019.12,0],[2019.16,0],[2019.2,0],[2019.24,0],[2019.28,0],[2019.32,0],[2019.36,0],[2019.4,0],[2019.44,0],[2019.48,0],[2019.52,0],[2019.56,0],[2019.6,0],[2019.64,0],[2019.68,0],[2019.72,0],[2019.76,0],[2019.8,0],[2019.84,0],[2019.88,0],[2019.92,0],[2020.03,0],[2020.06,0],[2020.09,0],[2020.21,0],[2020.25,0],[2020.29,0],[2020.33,0],[2020.37,0],[2020.41,0],[2020.45,0],[2020.49,0],[2020.53,0],[2020.57,0],[2020.61,0],[2020.65,0],[2020.69,0],[2020.73,0],[2020.77,0],[2020.81,0],[2020.85,0],[2020.89,0],[2020.93,0],[2020.97,0],[2021.01,0],[2021.05,0],[2021.09,0],[2021.13,0],[2021.17,0],[2021.21,0],[2021.25,0],[2021.29,0],[2021.33,0],[2021.37,0],[2021.41,0],[2021.45,0],[2021.49,0],[2021.53,0],[2021.57,0],[2021.61,0],[2021.65,0],[2021.69,0],[2021.73,0],[2021.77,0],[2021.81,0],[2021.85,0],[2021.89,0],[2021.93,0],[2021.96,0]];
const crossingLine=[[1997,195],[2022.02,195]];
const toXY=a=>a.map(p=>({x:p[0],y:p[1]}));
const FONT='Lato,"Liberation Sans",sans-serif';
const ds=(label,pts,color,r,bw,ord)=>({label,data:toXY(pts),showLine:false,pointStyle:'cross',pointRadius:r,pointHoverRadius:r,pointBorderWidth:bw,borderColor:color,backgroundColor:color,order:ord});
const chart=new Chart(document.getElementById('c'),{
 type:'scatter',
 data:{datasets:[
  ds(labelA04,pointsA04.concat(moreA04),'#FFC000',5,1.9,3),
  ds(labelA07,pointsA07.concat(moreA07),'#0070C0',4.6,2.8,2),
  ds(labelA10,pointsA10.concat(moreA10,flatA10),'#FF0000',4.6,2.8,1),
  {label:'',type:'line',data:toXY(crossingLine),borderColor:'#c4c4c4',borderWidth:2.5,pointRadius:0,order:10}
 ]},
 options:{
  responsive:false,animation:false,devicePixelRatio:1,
  layout:{padding:{left:0,right:71,top:97,bottom:0}},
  plugins:{legend:{display:false},title:{display:false},tooltip:{enabled:false}},
  scales:{
   x:{type:'linear',min:1997,max:2022.02,
      afterBuildTicks:s=>{s.ticks=yearTicks.map(v=>({value:v}));},
      afterFit:s=>{s.height=62.5;},
      grid:{color:'#d9d9d9',lineWidth:2,drawTicks:false},border:{display:false},
      ticks:{autoSkip:false,maxRotation:0,padding:23,color:'#595959',font:{family:FONT,size:19},callback:v=>'01/01/'+v}},
   y:{type:'linear',min:-500,max:3000,
      afterBuildTicks:s=>{s.ticks=[-500,0,500,1000,1500,2000,2500,3000].map(v=>({value:v}));},
      afterFit:s=>{s.width=92;},
      grid:{color:c=>c.tick&&c.tick.value===0?'rgba(0,0,0,0)':'#d9d9d9',lineWidth:2,drawTicks:false},border:{display:false},
      ticks:{padding:19,color:'#595959',font:{family:FONT,size:19},
        callback:v=>{const a=Math.abs(v);const t=a>=1000?Math.floor(a/1000)+' '+String(a%1000).padStart(3,'0'):String(a);return (v<0?'- ':'')+t+'%';}}}
  }
 }
});
const lg=document.getElementById('lg');
chart.data.datasets.slice(0,3).forEach((d,i)=>{
 const y=221.7+80*i,c=d.borderColor,m=document.createElement('div');
 m.className='abs';
 m.style.cssText=`left:1758px;top:${y-4.5}px;width:8px;height:9px;background:linear-gradient(${c},${c}) center/1.6px 100% no-repeat,linear-gradient(${c},${c}) center/100% 1.6px no-repeat`;
 lg.appendChild(m);
 const t=document.createElement('div');
 t.className='fit';t.dataset.x=1776;t.dataset.w=190;t.dataset.y=y;
 t.style.cssText='font-size:33px;font-weight:bold;color:#595959';t.textContent=d.label;
 lg.appendChild(t);
});
document.querySelectorAll('.fit').forEach(e=>{
 const r=e.getBoundingClientRect();
 e.style.left=e.dataset.x+'px';e.style.top=(e.dataset.y-r.height/2)+'px';
 e.style.transform='scaleX('+(e.dataset.w/r.width)+')';
});
</script>
</body></html>
